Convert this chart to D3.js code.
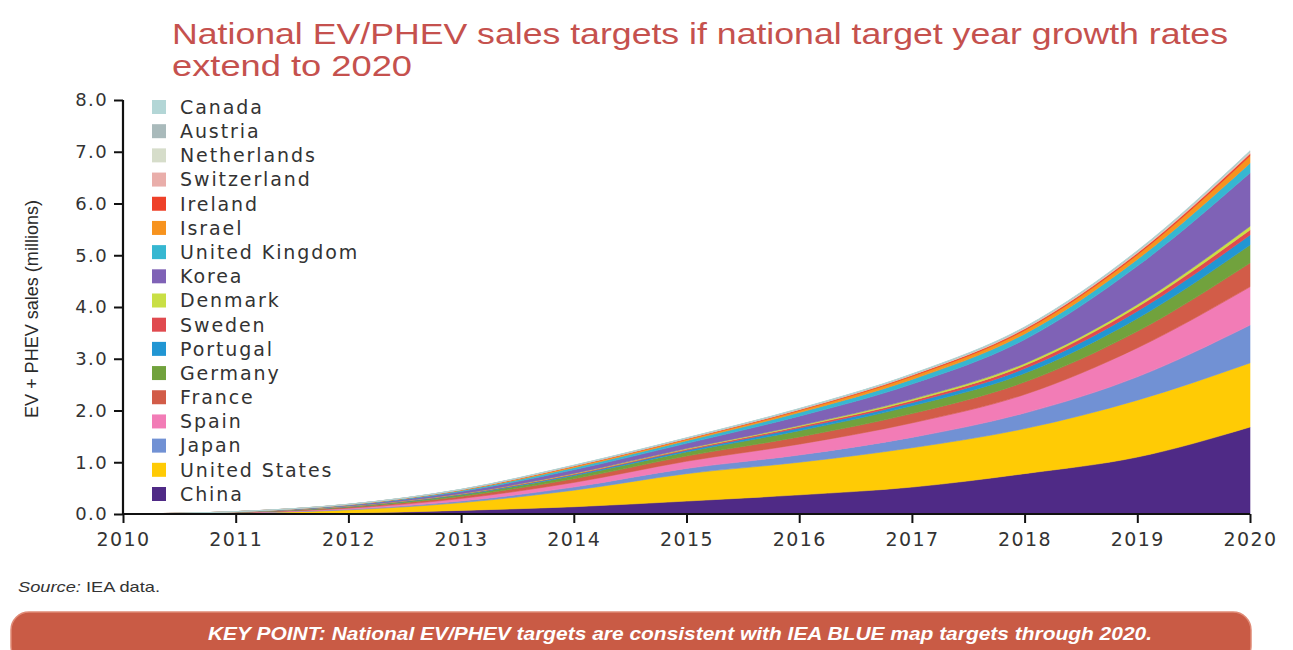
<!DOCTYPE html>
<html>
<head>
<meta charset="utf-8">
<script src="https://cdn.jsdelivr.net/npm/d3@7"></script>
<style>
  html, body { margin: 0; padding: 0; background: #ffffff; }
  svg { display: block; }
</style>
</head>
<body>
<svg id="chart" width="1293" height="650"></svg>
<script>
// ---------------- DATA ----------------
const years = [2010, 2011, 2012, 2013, 2014, 2015, 2016, 2017, 2018, 2019, 2020];
const yTicks = [0, 1, 2, 3, 4, 5, 6, 7, 8];

const china       = [0, 0.005, 0.02, 0.07, 0.14, 0.25, 0.37, 0.52, 0.78, 1.10, 1.68];
const unitedStates= [0, 0.015, 0.06, 0.15, 0.32, 0.53, 0.63, 0.76, 0.87, 1.10, 1.24];
const japan       = [0, 0.003, 0.012, 0.03, 0.06, 0.10, 0.14, 0.20, 0.30, 0.45, 0.73];
const spain       = [0, 0.005, 0.02, 0.05, 0.09, 0.14, 0.21, 0.28, 0.36, 0.56, 0.74];
const france      = [0, 0.004, 0.017, 0.04, 0.07, 0.10, 0.14, 0.18, 0.24, 0.32, 0.46];
const germany     = [0, 0.003, 0.013, 0.03, 0.06, 0.08, 0.12, 0.15, 0.17, 0.25, 0.35];
const portugal    = [0, 0.001, 0.005, 0.01, 0.02, 0.03, 0.05, 0.06, 0.09, 0.14, 0.19];
const sweden      = [0, 0.001, 0.004, 0.008, 0.015, 0.02, 0.03, 0.04, 0.06, 0.08, 0.10];
const denmark     = [0, 0.001, 0.002, 0.005, 0.01, 0.015, 0.02, 0.03, 0.04, 0.05, 0.07];
const korea       = [0, 0.004, 0.017, 0.04, 0.07, 0.10, 0.18, 0.29, 0.46, 0.74, 1.03];
const unitedKingdom=[0, 0.002, 0.008, 0.02, 0.04, 0.05, 0.07, 0.09, 0.11, 0.13, 0.19];
const israel      = [0, 0.001, 0.005, 0.012, 0.025, 0.03, 0.04, 0.06, 0.07, 0.09, 0.14];
const ireland     = [0, 0.0005, 0.002, 0.004, 0.008, 0.01, 0.015, 0.02, 0.025, 0.03, 0.04];
const switzerland = [0, 0.0003, 0.001, 0.002, 0.004, 0.005, 0.007, 0.008, 0.012, 0.015, 0.02];
const netherlands = [0, 0.0003, 0.001, 0.002, 0.004, 0.005, 0.007, 0.008, 0.012, 0.015, 0.02];
const austria     = [0, 0.0003, 0.001, 0.002, 0.004, 0.004, 0.005, 0.006, 0.008, 0.01, 0.01];
const canada      = [0, 0.0003, 0.001, 0.002, 0.004, 0.004, 0.005, 0.006, 0.008, 0.01, 0.01];

// stacking order, bottom to top
const countries = ["China", "United States", "Japan", "Spain", "France", "Germany", "Portugal",
  "Sweden", "Denmark", "Korea", "United Kingdom", "Israel", "Ireland", "Switzerland",
  "Netherlands", "Austria", "Canada"];
const seriesValues = [china, unitedStates, japan, spain, france, germany, portugal, sweden,
  denmark, korea, unitedKingdom, israel, ireland, switzerland, netherlands, austria, canada];
const colors = ["#4f2a86", "#ffcb05", "#7191d4", "#f27cb6", "#d25c48", "#71a23d", "#2196d3",
  "#e04a4f", "#c9df45", "#7f62b6", "#36b7d1", "#f7931e", "#ee4129", "#e9aeaa",
  "#d6ddca", "#a9babb", "#b3d6d6"];

const titleLines = ["National EV/PHEV sales targets if national target year growth rates", "extend to 2020"];
const yTitle = "EV + PHEV sales (millions)";
const sourceLabel = "Source:";
const sourceText = " IEA data.";
const keyLabel = "KEY POINT:";
const keyText = " National EV/PHEV targets are consistent with IEA BLUE map targets through 2020.";

// ---------------- BUILD ----------------
const table = years.map((yr, i) => {
  const row = { year: yr };
  countries.forEach((c, j) => { row[c] = seriesValues[j][i]; });
  return row;
});

const svg = d3.select("#chart");
const x = d3.scaleLinear().domain([2010, 2020]).range([123, 1250]);
const y = d3.scaleLinear().domain([0, 8]).range([514, 100]);
const color = d3.scaleOrdinal().domain(countries).range(colors);

const layers = d3.stack().keys(countries)(table);

const area = d3.area()
  .x(d => x(d.data.year))
  .y0(d => y(d[0]))
  .y1(d => y(d[1]))
  .curve(d3.curveMonotoneX);

svg.append("g").selectAll("path")
  .data(layers)
  .join("path")
  .attr("d", area)
  .attr("fill", d => color(d.key))
  .attr("stroke", d => color(d.key))
  .attr("stroke-width", 0.6);

// Title
const titleFont = "'Liberation Sans Narrow', 'Liberation Sans', sans-serif";
svg.append("text")
  .attr("x", 172).attr("y", 44)
  .attr("textLength", 1056).attr("lengthAdjust", "spacingAndGlyphs")
  .style("font-family", titleFont)
  .style("font-size", "30px")
  .attr("fill", "#c5514e")
  .text(titleLines[0]);
svg.append("text")
  .attr("x", 172).attr("y", 76)
  .attr("textLength", 240).attr("lengthAdjust", "spacingAndGlyphs")
  .style("font-family", titleFont)
  .style("font-size", "30px")
  .attr("fill", "#c5514e")
  .text(titleLines[1]);

// Axes
const yAxis = d3.axisLeft(y).tickValues(yTicks).tickFormat(d3.format(".1f")).tickSize(9).tickSizeOuter(0).tickPadding(6);
const xAxis = d3.axisBottom(x).tickValues(years).tickFormat(d3.format("d")).tickSize(9).tickSizeOuter(0).tickPadding(10);

const gy = svg.append("g").attr("transform", "translate(123,0)").call(yAxis);
const gx = svg.append("g").attr("transform", "translate(0,514)").call(xAxis);
[gx, gy].forEach(g => {
  g.select(".domain").attr("stroke", "#111").attr("stroke-width", 2.2);
  g.selectAll(".tick line").attr("stroke", "#111").attr("stroke-width", 2);
  g.selectAll(".tick text")
    .attr("fill", "#333")
    .style("font-family", "'DejaVu Sans', sans-serif")
    .style("letter-spacing", "1.4px");
});
gy.select(".domain").attr("d", "M0,514V100");
gy.selectAll(".tick text").style("font-size", "18px");
gx.select(".domain").attr("d", "M123,0H1250");
gx.selectAll(".tick text").style("font-size", "19px").attr("dy", "0.71em");

// Y title
svg.append("text")
  .attr("transform", "translate(38,309) rotate(-90)")
  .attr("text-anchor", "middle")
  .attr("textLength", 218).attr("lengthAdjust", "spacingAndGlyphs")
  .style("font-family", titleFont)
  .style("font-size", "18px")
  .attr("fill", "#2a2a2a")
  .text(yTitle);

// Legend (top to bottom: reverse of stack)
const legendItems = countries.slice().reverse();
const legend = svg.append("g");
const rowY = d3.scalePoint().domain(legendItems).range([107, 494]);
legendItems.forEach(c => {
  legend.append("rect")
    .attr("x", 152).attr("y", rowY(c) - 7)
    .attr("width", 14).attr("height", 14)
    .attr("fill", color(c));
  legend.append("text")
    .attr("x", 180).attr("y", rowY(c))
    .attr("dy", "0.36em")
    .style("font-family", "'DejaVu Sans', sans-serif")
    .style("font-size", "19px")
    .style("letter-spacing", "1.9px")
    .attr("fill", "#333")
    .text(c);
});

// Source
const src = svg.append("text")
  .attr("x", 18).attr("y", 592)
  .attr("textLength", 142).attr("lengthAdjust", "spacingAndGlyphs")
  .style("font-family", titleFont)
  .style("font-size", "15px")
  .attr("fill", "#333");
src.append("tspan").style("font-style", "italic").text(sourceLabel);
src.append("tspan").text(sourceText);

// Key point box
svg.append("rect")
  .attr("x", 11).attr("y", 612)
  .attr("width", 1240).attr("height", 52)
  .attr("rx", 18).attr("ry", 18)
  .attr("fill", "#c95b45")
  .attr("stroke", "#e08a76").attr("stroke-width", 1.5);
const kp = svg.append("text")
  .attr("x", 208).attr("y", 640)
  .attr("textLength", 944).attr("lengthAdjust", "spacingAndGlyphs")
  .style("font-family", titleFont)
  .style("font-size", "19px")
  .style("font-style", "italic")
  .style("font-weight", "bold")
  .attr("fill", "#ffffff");
kp.append("tspan").text(keyLabel);
kp.append("tspan").style("font-weight", "600").text(keyText);
</script>
</body>
</html>
